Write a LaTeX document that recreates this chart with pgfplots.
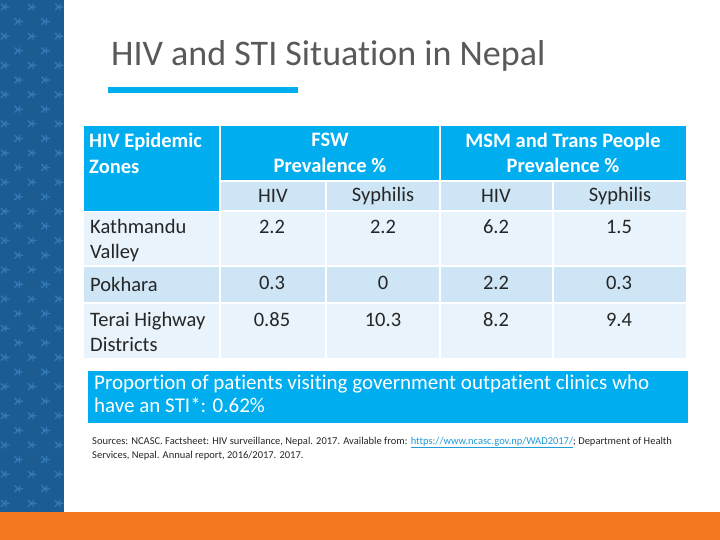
\documentclass[border=0pt]{standalone}
\usepackage{fontspec}
\setmainfont{Carlito}[Ligatures={NoCommon,NoContextual},RawFeature=-liga]
\usepackage{pgfplots}
\usepackage{pgfplotstable}
\pgfplotsset{compat=1.18}
\definecolor{strip}{HTML}{1B5C93}
\definecolor{stripc}{HTML}{3379B5}
\definecolor{orng}{HTML}{F47721}
\definecolor{hdr}{HTML}{00AEEF}
\definecolor{sub}{HTML}{CDE5F5}
\definecolor{lite}{HTML}{E8F3FB}
\definecolor{ttl}{HTML}{595959}
\definecolor{txt}{HTML}{262626}
\definecolor{lnk}{HTML}{1F9BD7}

\pgfplotstableread{
x y v
272 227 2.2
383 227 2.2
496 227 6.2
619 227 1.5
272 283 0.3
383 283 0
496 283 2.2
619 283 0.3
272 320 0.85
383 320 10.3
496 320 8.2
619 320 9.4
}\vals

\begin{document}
\begin{tikzpicture}[x=1pt,y=1pt]
% ---------- background ----------
\begin{scope}[y=-1pt,yshift=540pt]
\fill[white] (0,0) rectangle (720,540);
\fill[strip] (0,0) rectangle (64,512);
\begin{scope}
\clip (0,0) rectangle (64,512);
\foreach \j in {0,...,35}{
  \foreach \i in {0,1,2}{
    \pgfmathsetmacro{\px}{5+27*\i+13.5*mod(\j,2)}
    \pgfmathsetmacro{\py}{7+14.6*\j}
    \draw[stripc,line width=1.3pt,line cap=round]
      (\px-4,\py-3)--(\px,\py)--(\px-4,\py+3)
      (\px-2,\py)--(\px+4,\py)
      (\px+1,\py-3)--(\px+1,\py+3);
  }
}
\end{scope}
\fill[orng] (0,512) rectangle (720,540);
% title underline
\fill[hdr] (108,87) rectangle (298,93);
% header cells
\fill[hdr] (84,126) rectangle (219,211);
\fill[hdr] (221,126) rectangle (439,180);
\fill[hdr] (441,126) rectangle (686,180);
\fill[sub] (221,182) rectangle (325,210);
\fill[sub] (327,182) rectangle (439,210);
\fill[sub] (441,182) rectangle (552,210);
\fill[sub] (554,182) rectangle (686,210);
% rows
\foreach \ya/\yb/\c in {212/265/lite,267/302/sub,304/358/lite}{
  \fill[\c] (84,\ya) rectangle (219,\yb);
  \fill[\c] (221,\ya) rectangle (325,\yb);
  \fill[\c] (327,\ya) rectangle (439,\yb);
  \fill[\c] (441,\ya) rectangle (552,\yb);
  \fill[\c] (554,\ya) rectangle (686,\yb);
}
% STI box
\fill[hdr] (88,371) rectangle (688,423);
\end{scope}

% ---------- axis with table values ----------
\begin{axis}[at={(0,0)},anchor=south west,
  width=720pt,height=540pt,scale only axis,
  xmin=0,xmax=720,ymin=0,ymax=540,y dir=reverse,
  axis lines=none,clip=false]
\addplot[draw=none,mark=none,forget plot,
  nodes near coords,point meta=explicit symbolic,
  nodes near coords style={anchor=center,inner sep=0pt,
    font=\fontsize{20.5}{24}\selectfont,text=txt}]
  table[x=x,y=y,meta=v] {\vals};
\end{axis}

% ---------- texts ----------
\begin{scope}[y=-1pt,yshift=540pt]
\node[anchor=west,inner sep=0pt,text=ttl,font=\fontsize{36}{40}\selectfont] at (111,56) {HIV and STI Situation in Nepal};
\node[anchor=north west,inner sep=0pt,align=left,text=white,font=\fontsize{20.5}{25.5}\selectfont\bfseries] at (89,133) {HIV Epidemic\\Zones};
\node[anchor=center,inner sep=0pt,align=center,text=white,font=\fontsize{20.5}{25.5}\selectfont\bfseries] at (330,153) {FSW\\Prevalence \%};
\node[anchor=center,inner sep=0pt,align=center,text=white,font=\fontsize{20.5}{25.5}\selectfont\bfseries] at (563,153) {MSM and Trans People\\Prevalence \%};
\foreach \x/\t in {273/HIV,383/Syphilis,496/HIV,620/Syphilis}{
  \node[anchor=center,inner sep=0pt,text=txt,font=\fontsize{20.5}{24}\selectfont] at (\x,196) {\t};
}
\node[anchor=north west,inner sep=0pt,align=left,text=txt,font=\fontsize{20.5}{25}\selectfont] at (90,219) {Kathmandu\\Valley};
\node[anchor=west,inner sep=0pt,text=txt,font=\fontsize{20.5}{25}\selectfont] at (90,284) {Pokhara};
\node[anchor=north west,inner sep=0pt,align=left,text=txt,font=\fontsize{20.5}{25}\selectfont] at (90,312) {Terai Highway\\Districts};
\node[anchor=north west,inner sep=0pt,align=left,text=white,font=\fontsize{21}{23}\selectfont] at (94,375) {Proportion of patients visiting government outpatient clinics who\\have an STI*: 0.62\%};
\node[anchor=north west,inner sep=0pt,align=left,text=txt,font=\fontsize{10.5}{14}\selectfont] at (92,437) {Sources: NCASC. Factsheet: HIV surveillance, Nepal. 2017. Available from: \textcolor{lnk}{\underline{https://www.ncasc.gov.np/WAD2017/}}; Department of Health\\Services, Nepal. Annual report, 2016/2017. 2017.};
\end{scope}
\pgfresetboundingbox
\useasboundingbox (0,0) rectangle (720,540);
\end{tikzpicture}
\end{document}
